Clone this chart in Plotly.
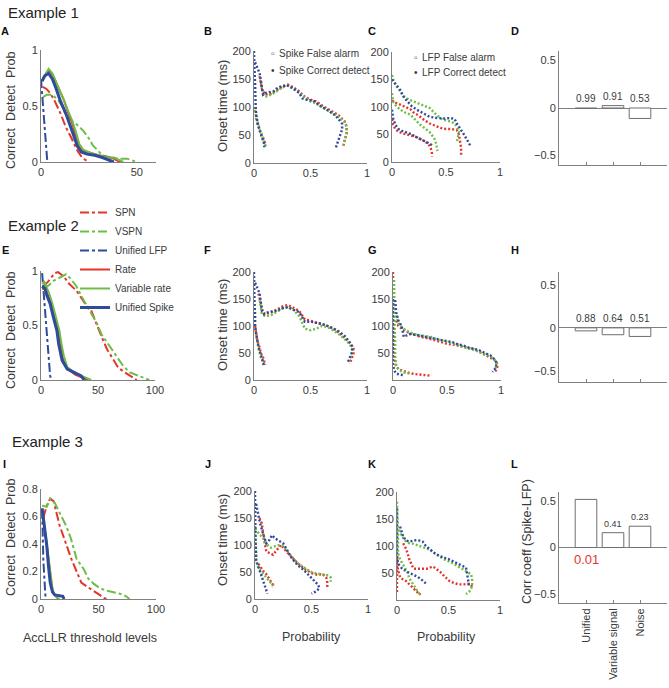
import plotly.graph_objects as go

W, H = 669, 688
RED, GREEN, BLUE = "#e5352b", "#6dbd48", "#2f4b9b"
AXC = "#808080"
TXT = "#3a3a3a"
FONT = "Liberation Sans, Arial, sans-serif"

# ---------------- data: detection curves (threshold, probability) ----------------
A_spn = [(1,0.67),(3,0.65),(5,0.61),(7,0.55),(10,0.44),(13,0.31),(16,0.21),(19,0.1),(21,0.05),(23,0.02),(25,0)]
A_vspn = [(1,0.58),(3,0.6),(6,0.6),(9,0.55),(11,0.5),(13,0.42),(16,0.37),(19,0.33),(22,0.28),(25,0.21),(27,0.15),(29,0.11),(32,0.06),(36,0.04),(41,0.03),(45,0.03),(48,0.01),(50,0)]
A_lfp = [(0,0.74),(1,0.5),(2,0.22),(2.8,0.04),(3.3,0)]
A_rate = [(1,0.74),(3,0.8),(4,0.82),(6,0.78),(8,0.7),(10,0.63),(12,0.55),(14,0.45),(16,0.36),(18,0.25),(20,0.15),(22,0.1),(26,0.08),(30,0.06),(34,0.05),(38,0.03),(40,0.01),(42,0)]
A_vrate = [(1,0.75),(3,0.81),(4,0.83),(6,0.79),(8,0.71),(10,0.64),(12,0.55),(14,0.46),(16,0.38),(18,0.28),(20,0.16),(22,0.11),(26,0.08),(30,0.06),(35,0.04),(38,0.04),(41,0.02),(43,0)]
A_spike = [(0.5,0.72),(2,0.77),(4,0.79),(6,0.74),(8,0.65),(10,0.55),(13,0.43),(15,0.34),(17,0.24),(19,0.14),(21,0.09),(24,0.07),(28,0.06),(32,0.04),(35,0.02),(38,0)]

E_spn = [(2,0.86),(6,0.9),(12,0.98),(15,0.99),(20,0.95),(24,0.89),(31,0.82),(35,0.76),(40,0.68),(44,0.64),(49,0.5),(53,0.4),(58,0.28),(63,0.19),(68,0.11),(72,0.08),(78,0.04),(82,0.01),(84,0)]
E_vspn = [(2,0.87),(6,0.86),(11,0.91),(16,0.94),(22,0.97),(26,0.93),(31,0.86),(37,0.74),(43,0.63),(49,0.52),(53,0.42),(60,0.31),(66,0.22),(72,0.13),(78,0.07),(87,0.03),(93,0.01),(95,0)]
E_lfp = [(1,0.98),(2,0.84),(3.5,0.63),(5,0.39),(6.5,0.17),(8,0.04),(9,0)]
E_rate = [(1,0.84),(4,0.83),(6,0.78),(9,0.7),(12,0.58),(15,0.45),(17,0.33),(19,0.2),(22,0.12),(26,0.08),(30,0.05),(35,0.03),(39,0.01),(41,0)]
E_vrate = [(1,0.88),(3,0.9),(5,0.85),(7,0.8),(10,0.7),(13,0.58),(16,0.46),(18,0.33),(20,0.22),(23,0.12),(28,0.08),(33,0.05),(38,0.03),(42,0.01),(44,0)]
E_spike = [(1,0.86),(3.5,0.84),(5,0.78),(8,0.7),(11,0.57),(14,0.45),(15.5,0.33),(18.5,0.18),(23,0.1),(29,0.07),(35,0.04),(38,0)]

I_spn = [(2,0.59),(5,0.68),(8,0.73),(11,0.71),(16,0.54),(22,0.39),(26,0.3),(31,0.2),(35,0.12),(40,0.09),(46,0.06),(51,0.03),(54,0.01),(57,0)]
I_vspn = [(1,0.68),(5,0.67),(8,0.73),(12,0.7),(16,0.63),(22,0.53),(26,0.44),(31,0.29),(37,0.22),(41,0.15),(46,0.11),(51,0.08),(57,0.06),(63,0.05),(68,0.04),(74,0.02),(77,0)]
I_lfp = [(1,0.65),(1.5,0.45),(2,0.29),(3,0.14),(3.5,0.02),(4,0)]
I_rate = [(1,0.6),(2.5,0.55),(4,0.45),(5.5,0.35),(7,0.22),(8.5,0.12),(10,0.06),(12,0.03),(14,0.01),(15,0)]
I_vrate = [(1,0.62),(2.5,0.56),(4,0.47),(5.5,0.37),(7,0.25),(8.5,0.14),(10,0.07),(12,0.03),(14,0.01),(16,0)]
I_spike = [(1,0.66),(2,0.6),(3.5,0.51),(5,0.39),(6.5,0.24),(8,0.12),(10,0.05),(12,0.03),(19,0.02),(20,0)]

# ---------------- data: onset time vs probability (prob, ms) ----------------
B_red_fa = [(0.01,100),(0.02,80),(0.03,70),(0.05,60),(0.06,52),(0.08,45),(0.09,40),(0.1,35),(0.1,30)]
B_green_fa = [(0.01,95),(0.02,78),(0.04,68),(0.05,60),(0.07,50),(0.08,44),(0.09,38),(0.1,32),(0.09,28)]
B_blue_fa = [(0,200),(0,185),(0.005,165),(0.01,140),(0.01,115),(0.015,100),(0.02,85),(0.03,72),(0.04,65),(0.05,58),(0.06,52),(0.07,46),(0.08,40),(0.09,34),(0.09,28)]
B_red_cd = [(0.05,155),(0.07,132),(0.1,122),(0.15,124),(0.2,130),(0.25,136),(0.3,140),(0.35,135),(0.4,128),(0.45,118),(0.5,113),(0.55,110),(0.6,103),(0.65,97),(0.7,90),(0.75,85),(0.8,75),(0.82,65),(0.82,55),(0.81,45),(0.8,35),(0.79,30)]
B_green_cd = [(0.06,145),(0.08,125),(0.1,118),(0.15,122),(0.2,128),(0.25,135),(0.3,138),(0.35,132),(0.4,126),(0.45,116),(0.5,110),(0.55,106),(0.6,100),(0.65,95),(0.7,88),(0.75,82),(0.8,74),(0.82,64),(0.82,52),(0.8,40),(0.79,32)]
B_blue_cd = [(0.01,180),(0.03,170),(0.05,160),(0.06,148),(0.07,130),(0.08,122),(0.1,125),(0.13,126),(0.17,128),(0.2,133),(0.25,138),(0.3,138),(0.35,133),(0.4,125),(0.43,115),(0.48,112),(0.52,112),(0.56,106),(0.6,100),(0.64,96),(0.68,90),(0.72,85),(0.75,78),(0.78,70),(0.78,60),(0.76,48),(0.74,38),(0.73,30),(0.72,25)]

C_red_up = [(0,112),(0.03,108),(0.08,104),(0.13,100),(0.17,96),(0.2,90),(0.25,84),(0.3,76),(0.35,70),(0.4,66),(0.45,62),(0.5,60),(0.55,60),(0.6,58),(0.62,50),(0.63,38),(0.64,25),(0.64,12)]
C_red_lo = [(0,78),(0.01,68),(0.03,60),(0.06,55),(0.1,52),(0.15,50),(0.2,47),(0.25,43),(0.3,38),(0.34,32),(0.36,24),(0.37,16),(0.37,10)]
C_green_up = [(0,158),(0.02,145),(0.05,135),(0.08,128),(0.12,118),(0.16,113),(0.22,108),(0.28,104),(0.35,98),(0.41,86),(0.47,77),(0.54,74),(0.58,70),(0.6,64),(0.62,55),(0.61,45),(0.6,35)]
C_green_lo = [(0,125),(0.01,110),(0.03,104),(0.07,96),(0.12,90),(0.17,86),(0.22,76),(0.26,68),(0.3,62),(0.35,54),(0.38,46),(0.4,40),(0.41,32),(0.42,25),(0.42,20)]
C_blue_up = [(0,150),(0.02,145),(0.05,138),(0.08,130),(0.1,120),(0.14,110),(0.18,102),(0.23,95),(0.3,87),(0.35,82),(0.42,80),(0.48,79),(0.54,80),(0.58,78),(0.6,70),(0.63,62),(0.66,52),(0.69,42),(0.72,33),(0.73,28)]
C_blue_lo = [(0,95),(0.01,80),(0.03,68),(0.06,60),(0.1,56),(0.16,52),(0.22,46),(0.28,40),(0.32,36),(0.36,32),(0.38,28)]

F_red_fa = [(0.01,100),(0.02,85),(0.03,72),(0.05,60),(0.06,50),(0.08,42),(0.09,35),(0.1,28)]
F_green_fa = [(0.01,95),(0.02,80),(0.03,68),(0.04,58),(0.05,50),(0.06,42),(0.08,35),(0.09,28)]
F_blue_fa = [(0,200),(0,180),(0,160),(0.005,140),(0.01,120),(0.01,100),(0.02,85),(0.03,72),(0.04,62),(0.05,55),(0.06,48),(0.07,40),(0.08,32),(0.09,25)]
F_red_cd = [(0.04,160),(0.06,140),(0.08,125),(0.1,122),(0.15,125),(0.2,130),(0.25,136),(0.3,139),(0.35,134),(0.4,128),(0.45,112),(0.5,110),(0.55,106),(0.6,104),(0.65,100),(0.7,95),(0.75,88),(0.8,78),(0.85,68),(0.88,58),(0.88,48),(0.86,38),(0.85,30)]
F_green_cd = [(0.05,148),(0.07,122),(0.1,118),(0.15,120),(0.2,126),(0.25,132),(0.3,135),(0.35,130),(0.4,118),(0.45,95),(0.5,92),(0.55,95),(0.6,100),(0.65,98),(0.7,92),(0.75,85),(0.8,76),(0.85,66),(0.87,55),(0.86,45),(0.84,35)]
F_blue_cd = [(0.01,180),(0.03,170),(0.05,160),(0.06,145),(0.07,128),(0.09,122),(0.12,125),(0.16,127),(0.2,128),(0.25,133),(0.3,135),(0.35,130),(0.4,126),(0.45,108),(0.5,108),(0.55,106),(0.6,104),(0.65,100),(0.7,96),(0.75,90),(0.8,82),(0.84,72),(0.87,62),(0.87,52),(0.85,42),(0.83,33)]

G_red_fa = [(0,200),(0.005,160),(0.01,120),(0.01,80),(0.01,50),(0.02,30),(0.05,20),(0.1,16),(0.15,13),(0.2,11),(0.25,10),(0.3,9),(0.35,8)]
G_green_fa = [(0.01,185),(0.01,160),(0.015,130),(0.015,100),(0.02,70),(0.02,45),(0.03,25),(0.06,18),(0.1,14),(0.15,12)]
G_blue_fa = [(0,150),(0,125),(0,100),(0,75),(0,50),(0,30),(0.01,18),(0.03,12),(0.06,10),(0.1,9)]
G_red_cd = [(0.03,110),(0.05,100),(0.08,95),(0.12,90),(0.16,86),(0.2,84),(0.25,80),(0.3,78),(0.35,76),(0.4,73),(0.45,70),(0.5,67),(0.55,66),(0.6,64),(0.65,62),(0.7,60),(0.75,57),(0.8,52),(0.85,47),(0.9,42),(0.95,36),(0.97,28),(0.96,20),(0.94,14)]
G_green_cd = [(0.03,120),(0.05,105),(0.08,98),(0.12,92),(0.16,88),(0.2,85),(0.25,83),(0.3,82),(0.35,80),(0.4,76),(0.45,73),(0.5,70),(0.55,68),(0.6,66),(0.65,62),(0.7,58),(0.75,56),(0.8,52),(0.85,48),(0.9,44),(0.94,38),(0.96,30),(0.95,20)]
G_blue_cd = [(0.02,148),(0.03,125),(0.05,110),(0.08,100),(0.1,80),(0.15,85),(0.2,84),(0.25,82),(0.3,80),(0.35,78),(0.4,76),(0.45,74),(0.5,72),(0.55,70),(0.6,66),(0.65,64),(0.7,60),(0.75,57),(0.8,55),(0.85,50),(0.9,46),(0.93,40),(0.96,32),(0.95,22),(0.92,15)]

J_red_fa = [(0.03,65),(0.06,55),(0.08,50),(0.1,46),(0.12,40),(0.14,34),(0.15,30),(0.16,26),(0.15,22)]
J_green_fa = [(0,135),(0,115),(0.005,95),(0.01,75),(0.02,62),(0.04,55),(0.07,47),(0.1,40),(0.13,32),(0.15,28),(0.16,24)]
J_blue_fa = [(0,200),(0,175),(0,150),(0,125),(0.005,103),(0.01,85),(0.01,72),(0.03,60),(0.04,54),(0.05,45),(0.07,35),(0.08,27),(0.09,20),(0.1,14),(0.11,10)]
J_red_cd = [(0.04,150),(0.06,140),(0.08,110),(0.1,88),(0.13,85),(0.16,82),(0.19,90),(0.23,100),(0.27,90),(0.31,80),(0.35,72),(0.4,62),(0.45,54),(0.5,48),(0.55,45),(0.6,46),(0.63,40),(0.64,30),(0.64,20)]
J_green_cd = [(0,130),(0.02,125),(0.05,118),(0.08,110),(0.11,100),(0.14,95),(0.18,98),(0.22,100),(0.26,98),(0.3,85),(0.34,75),(0.38,66),(0.42,60),(0.46,55),(0.5,50),(0.55,47),(0.6,45),(0.64,44),(0.67,40),(0.67,32)]
J_blue_cd = [(0.01,176),(0.03,155),(0.045,140),(0.07,122),(0.1,103),(0.13,110),(0.15,118),(0.18,112),(0.22,106),(0.25,103),(0.28,92),(0.31,80),(0.34,72),(0.38,62),(0.43,54),(0.47,45),(0.52,35),(0.56,26),(0.57,20),(0.54,14),(0.5,10)]

K_red_fa = [(0,15),(0,30),(0,50),(0,70),(0,82),(0.01,55),(0.03,42),(0.06,38),(0.09,35),(0.12,29),(0.15,23),(0.18,17),(0.21,12),(0.23,10)]
K_green_fa = [(0,182),(0,165),(0.005,148),(0.01,125),(0.01,100),(0.01,87),(0.03,75),(0.05,69),(0.08,60),(0.1,52),(0.12,40),(0.15,30),(0.17,24),(0.2,16),(0.22,11)]
K_blue_fa = [(0,170),(0,150),(0,130),(0,110),(0,90),(0,75),(0.02,65),(0.05,58),(0.1,52),(0.15,48),(0.2,43),(0.25,36),(0.29,29)]
K_red_cd = [(0.06,105),(0.09,94),(0.12,75),(0.16,58),(0.22,58),(0.29,58),(0.35,62),(0.39,56),(0.42,52),(0.46,44),(0.51,35),(0.56,31),(0.6,29),(0.65,29),(0.7,30),(0.72,28),(0.73,24)]
K_green_cd = [(0.02,130),(0.05,117),(0.08,110),(0.12,105),(0.16,104),(0.19,102),(0.24,98),(0.28,96),(0.32,93),(0.37,86),(0.42,80),(0.47,74),(0.52,70),(0.58,64),(0.64,57),(0.68,52),(0.72,48),(0.73,36),(0.73,25),(0.7,15),(0.67,11)]
K_blue_cd = [(0.03,136),(0.06,117),(0.09,110),(0.12,108),(0.16,110),(0.19,111),(0.22,110),(0.25,108),(0.28,100),(0.32,93),(0.37,86),(0.42,81),(0.47,78),(0.51,75),(0.56,70),(0.6,66),(0.64,63),(0.67,60),(0.68,50),(0.69,38),(0.7,25)]

# ---------------- data: correlation bars ----------------
bar_categories = ["Unified", "Variable signal", "Noise"]
D_values = [-0.005, 0.025, -0.11]
D_labels = ["0.99", "0.91", "0.53"]
H_values = [-0.035, -0.08, -0.1]
H_labels = ["0.88", "0.64", "0.51"]
L_values = [0.52, 0.16, 0.23]
L_labels = ["0.01", "0.41", "0.23"]

curve_names = ["SPN", "VSPN", "Unified LFP", "Rate", "Variable rate", "Unified Spike"]

# ---------------- figure ----------------
fig = go.Figure()

def fx(px):
    return px / W

def fy(py):
    return 1 - py / H

def names(i):
    return ("x" if i == 1 else f"x{i}"), ("y" if i == 1 else f"y{i}")

def add_line(i, pts, color, dash, width, name=None, legend=False):
    xa, ya = names(i)
    fig.add_trace(go.Scatter(
        x=[p[0] for p in pts], y=[p[1] for p in pts], mode="lines",
        line=dict(color=color, dash=dash, width=width),
        name=name, showlegend=legend, xaxis=xa, yaxis=ya, hoverinfo="skip"))

def set_axes(i, box, xrange, yrange, xtv, ytv, xtt=None, ytt=None, zero=False,
             xticks="", xticklen=0, xangle=None):
    x0, x1, yt, yb = box
    xa, ya = names(i)
    xk = "xaxis" if i == 1 else f"xaxis{i}"
    yk = "yaxis" if i == 1 else f"yaxis{i}"
    tf = dict(size=11, color=TXT, family=FONT)
    xd = dict(domain=[fx(x0), fx(x1)], range=xrange, anchor=ya, showline=True,
              linecolor=AXC, linewidth=1, showgrid=False, zeroline=False,
              ticks=xticks, ticklen=xticklen, tickcolor=AXC, automargin=False,
              tickvals=xtv, ticktext=xtt if xtt is not None else [str(v) for v in xtv],
              tickfont=tf, fixedrange=True)
    if xangle is not None:
        xd["tickangle"] = xangle
    yd = dict(domain=[fy(yb), fy(yt)], range=yrange, anchor=xa, showline=True,
              linecolor=AXC, linewidth=1, showgrid=False, zeroline=zero,
              zerolinecolor=AXC, zerolinewidth=1, automargin=False,
              ticks="", tickvals=ytv, ticktext=ytt if ytt is not None else [str(v) for v in ytv],
              tickfont=tf, fixedrange=True)
    fig.update_layout(**{xk: xd, yk: yd})

# detection panels A, E, I
det_panels = [
    (1, A_spn, A_vspn, A_lfp, A_rate, A_vrate, A_spike, True),
    (5, E_spn, E_vspn, E_lfp, E_rate, E_vrate, E_spike, False),
    (9, I_spn, I_vspn, I_lfp, I_rate, I_vrate, I_spike, False),
]
for (i, spn, vspn, lfp, rate, vrate, spike, leg) in det_panels:
    add_line(i, spn, RED, "dashdot", 2, curve_names[0], leg)
    add_line(i, vspn, GREEN, "dashdot", 2, curve_names[1], leg)
    add_line(i, lfp, BLUE, "dashdot", 2, curve_names[2], leg)
    add_line(i, rate, RED, "solid", 2, curve_names[3], leg)
    add_line(i, vrate, GREEN, "solid", 2, curve_names[4], leg)
    add_line(i, spike, BLUE, "solid", 3, curve_names[5], leg)

# onset panels
onset_panels = [
    (2, [B_red_fa, B_red_cd], [B_green_fa, B_green_cd], [B_blue_fa, B_blue_cd]),
    (3, [C_red_up, C_red_lo], [C_green_up, C_green_lo], [C_blue_up, C_blue_lo]),
    (6, [F_red_fa, F_red_cd], [F_green_fa, F_green_cd], [F_blue_fa, F_blue_cd]),
    (7, [G_red_fa, G_red_cd], [G_green_fa, G_green_cd], [G_blue_fa, G_blue_cd]),
    (10, [J_red_fa, J_red_cd], [J_green_fa, J_green_cd], [J_blue_fa, J_blue_cd]),
    (11, [K_red_fa, K_red_cd], [K_green_fa, K_green_cd], [K_blue_fa, K_blue_cd]),
]
for (i, reds, greens, blues) in onset_panels:
    for s in reds:
        add_line(i, s, RED, "2px,2px", 2.4)
    for s in greens:
        add_line(i, s, GREEN, "2px,2px", 2.4)
    for s in blues:
        add_line(i, s, BLUE, "2px,2px", 2.4)

# bar panels
for i, vals in [(4, D_values), (8, H_values), (12, L_values)]:
    xa, ya = names(i)
    fig.add_trace(go.Bar(x=[1, 2, 3], y=vals, width=0.8,
                         marker=dict(color="white", line=dict(color="#6e6e6e", width=1)),
                         showlegend=False, xaxis=xa, yaxis=ya, hoverinfo="skip"))

# axes
unit_t = [0, 0.5, 1]
unit_tt = ["0", "0.5", "1"]
ms_t = [0, 50, 100, 150, 200]
ms_t2 = [50, 100, 150, 200]
bar_t = [-0.5, 0, 0.5]
bar_tt = ["\u22120.5", "0", "0.5"]
set_axes(1, (41, 156, 50, 162), [0, 60], [0, 1], [0, 50], unit_t, ytt=unit_tt)
set_axes(2, (254, 367, 51, 163), [0, 1], [0, 200], unit_t, ms_t, xtt=unit_tt)
set_axes(3, (392, 500, 52, 162), [0, 1], [0, 200], unit_t, ms_t, xtt=unit_tt)
set_axes(4, (559, 667, 51, 165), [0, 4], [-0.6, 0.6], [1, 2, 3], bar_t, xtt=["", "", ""], ytt=bar_tt,
         zero=True, xticks="inside", xticklen=3)
set_axes(5, (41, 155, 271, 380), [0, 100], [0, 1], [0, 50, 100], unit_t, ytt=unit_tt)
set_axes(6, (254, 367, 272, 380), [0, 1], [0, 200], unit_t, ms_t, xtt=unit_tt)
set_axes(7, (393, 501, 272, 380), [0, 1], [0, 200], unit_t, ms_t2, xtt=unit_tt)
set_axes(8, (559, 667, 272, 382), [0, 4], [-0.63, 0.65], [1, 2, 3], bar_t, xtt=["", "", ""], ytt=bar_tt,
         zero=True, xticks="inside", xticklen=3)
set_axes(9, (41, 156, 489, 599), [0, 100], [0, 0.8], [0, 50, 100], [0, 0.2, 0.4, 0.6, 0.8],
         ytt=["0", "0.2", "0.4", "0.6", "0.8"])
set_axes(10, (255, 368, 491, 599), [0, 1], [0, 200], unit_t, ms_t, xtt=unit_tt)
set_axes(11, (397, 500, 492, 600), [0, 1], [0, 200], unit_t, ms_t2, xtt=unit_tt)
set_axes(12, (559, 667, 492, 603), [0, 4], [-0.6, 0.6], [1, 2, 3], bar_t, xtt=bar_categories, ytt=bar_tt,
         zero=True, xticks="inside", xticklen=3, xangle=-90)

# bar labels
def bar_labels(i, vals, labels, size, colors=None, below=None):
    xa, ya = names(i)
    for k, (v, lab) in enumerate(zip(vals, labels)):
        b = below[k] if below else False
        fig.add_annotation(x=k + 1, y=(0 if b else max(v, 0)), xref=xa, yref=ya, text=lab,
                           showarrow=False, yanchor="top" if b else "bottom",
                           yshift=-2 if b else 2,
                           font=dict(size=size[k] if isinstance(size, list) else size,
                                     color=colors[k] if colors else TXT, family=FONT))

bar_labels(4, D_values, D_labels, 10)
bar_labels(8, H_values, H_labels, 10)
bar_labels(12, L_values, L_labels, [13, 9, 9], colors=[RED, TXT, TXT], below=[True, False, False])

def txt(x, y, s, size=12, angle=0, xanchor="center", bold=False, color=TXT):
    fig.add_annotation(x=fx(x), y=fy(y), xref="paper", yref="paper", text=("<b>%s</b>" % s) if bold else s,
                       showarrow=False, xanchor=xanchor, yanchor="middle", textangle=angle,
                       font=dict(size=size, color=color, family=FONT))

# example headers
txt(6, 12, "Example 1", 15, xanchor="left", color="#222")
txt(6, 225, "Example 2", 15, xanchor="left", color="#222")
txt(10, 441, "Example 3", 15, xanchor="left", color="#222")

# panel letters
for s, x, y in [("A", 5, 31), ("B", 208, 31), ("C", 372, 31), ("D", 515, 31),
                ("E", 5, 250), ("F", 208, 250), ("G", 372, 250), ("H", 515, 250),
                ("I", 4, 464), ("J", 208, 464), ("K", 372, 464), ("L", 514, 464)]:
    txt(x, y, s, 11, bold=True, color="#111")

# axis titles
for y in (111, 331, 538):
    txt(11, y, "Correct  Detect  Prob", 12.5, angle=-90)
for y in (106, 325, 540):
    txt(222, y, "Onset time (ms)", 13, angle=-90)
txt(90, 638, "AccLLR threshold levels", 12.5)
txt(311, 637, "Probability", 12.5)
txt(446, 637, "Probability", 12.5)
txt(527, 542, "Corr coeff (Spike-LFP)", 12.5, angle=-90)

# B / C marker legends
txt(273, 53, "\u25ab", 10)
txt(277, 53, "Spike False alarm", 10, xanchor="left")
txt(273, 71, "\u2022", 10)
txt(277, 71, "Spike Correct detect", 10, xanchor="left")
txt(416, 57, "\u25ab", 10)
txt(420, 57, "LFP False alarm", 10, xanchor="left")
txt(416, 73, "\u2022", 10)
txt(420, 73, "LFP Correct detect", 10, xanchor="left")

fig.update_layout(
    width=W, height=H, margin=dict(l=0, r=0, t=0, b=0, autoexpand=False),
    paper_bgcolor="white", plot_bgcolor="white",
    font=dict(family=FONT, size=11, color=TXT),
    legend=dict(x=fx(75), y=fy(198), xanchor="left", yanchor="top",
                font=dict(size=10, color=TXT, family=FONT), bgcolor="rgba(0,0,0,0)",
                itemwidth=30, tracegroupgap=0),
    bargap=0.2,
)

# remove the browser's default 8px body margin so the figure sits at the page origin
fig.write_html("out.html", config={"displayModeBar": False},
               post_script="document.body.style.margin='0px';")
